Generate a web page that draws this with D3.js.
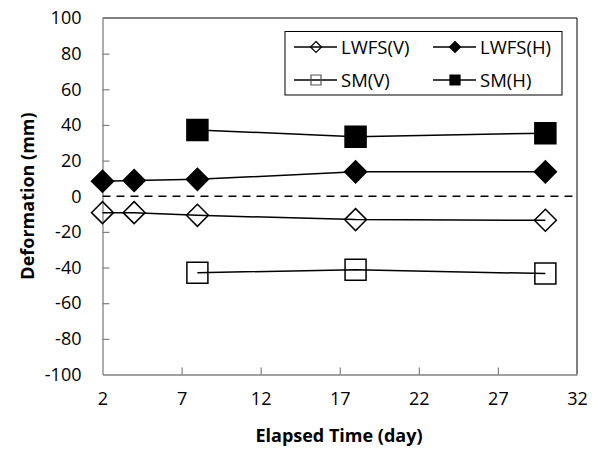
<!DOCTYPE html>
<html><head><meta charset="utf-8">
<script src="https://cdn.jsdelivr.net/npm/d3@7"></script>
<style>body{margin:0;background:#fff}svg{display:block}text{font-family:"Open Sans",sans-serif}</style>
</head><body>
<svg id="c" width="598" height="450"></svg>
<script>
const xTicks = [2, 7, 12, 17, 22, 27, 32];
const yTicks = [-100, -80, -60, -40, -20, 0, 20, 40, 60, 80, 100];
const lwfsDays = [2, 4, 8, 18, 30];
const smDays = [8, 18, 30];
const lwfsV = [-9.2, -9.2, -10.7, -13.1, -13.5];
const lwfsH = [8.4, 8.8, 9.5, 13.7, 13.7];
const smV = [-42.9, -41.2, -43.4];
const smH = [37.2, 33.4, 35.4];
const seriesNames = ["LWFS(V)", "LWFS(H)", "SM(V)", "SM(H)"];

const svg = d3.select("#c");
const L = 102.5, R = 577, T = 18, B = 374.5;
const x = d3.scaleLinear().domain([2, 32]).range([L, R]);
const y = d3.scaleLinear().domain([-100, 100]).range([B, T]);

// frame
svg.append("line").attr("x1", L).attr("x2", R).attr("y1", T).attr("y2", T).attr("stroke", "#000");
svg.append("line").attr("x1", R).attr("x2", R).attr("y1", T).attr("y2", B).attr("stroke", "#000");

// axes
const fmt = d => String(d);
const gx = svg.append("g").attr("transform", `translate(0,${B})`)
  .call(d3.axisBottom(x).tickValues(xTicks).tickFormat(fmt).tickSizeInner(-7).tickSizeOuter(0).tickPadding(18));
const gy = svg.append("g").attr("transform", `translate(${L},0)`)
  .call(d3.axisLeft(y).tickValues(yTicks).tickFormat(fmt).tickSizeInner(-7).tickSizeOuter(0).tickPadding(21));
[gx, gy].forEach(g => {
  g.select(".domain").attr("stroke", "#808080").attr("stroke-width", 1.3);
  g.selectAll(".tick line").attr("stroke", "#808080").attr("stroke-width", 1.2);
  g.selectAll(".tick text").attr("font-size", 18).attr("fill", "#000").attr("font-family", "Open Sans");
});
gy.selectAll(".tick").filter(d => d === 0 || d === 100 || d === -100).select("line").remove();
gx.selectAll(".tick").filter(d => d === 2 || d === 32).select("line").remove();

// zero dashed line
svg.append("line").attr("x1", L).attr("x2", R).attr("y1", y(0)).attr("y2", y(0))
  .attr("stroke", "#000").attr("stroke-width", 1.5).attr("stroke-dasharray", "8,6");

const line = d3.line().x(d => x(d[0])).y(d => y(d[1]));
const diamond = s => `M0,${-s}L${s},0L0,${s}L${-s},0Z`;
const square = s => `M${-s},${-s}H${s}V${s}H${-s}Z`;

const series = [
  {days: lwfsDays, vals: lwfsV, shape: diamond, size: 11, fill: "none"},
  {days: lwfsDays, vals: lwfsH, shape: diamond, size: 11, fill: "#000"},
  {days: smDays, vals: smV, shape: square, size: 10.5, fill: "none"},
  {days: smDays, vals: smH, shape: square, size: 10.5, fill: "#000"}
];
series.forEach(s => {
  const pts = s.days.map((d, i) => [d, s.vals[i]]);
  svg.append("path").attr("d", line(pts)).attr("fill", "none").attr("stroke", "#000").attr("stroke-width", 1.5);
  svg.selectAll(null).data(pts).enter().append("path")
    .attr("d", s.shape(s.size)).attr("transform", d => `translate(${x(d[0])},${y(d[1])})`)
    .attr("fill", s.fill).attr("stroke", "#000").attr("stroke-width", 1.5);
});

// legend
const lg = svg.append("g");
lg.append("rect").attr("x", 285).attr("y", 31.5).attr("width", 277).attr("height", 63.5)
  .attr("fill", "#fff").attr("stroke", "#000").attr("stroke-width", 1);
const pos = [[294, 47], [433, 47], [294, 80], [433, 80]];
series.forEach((s, i) => {
  const [lx, ly] = pos[i];
  lg.append("line").attr("x1", lx).attr("x2", lx + 43).attr("y1", ly).attr("y2", ly).attr("stroke", "#000").attr("stroke-width", 1.5);
  lg.append("path").attr("d", s.shape(s.size === 11 ? 5.5 : 5)).attr("transform", `translate(${lx + 22},${ly})`)
    .attr("fill", s.fill).attr("stroke", i === 2 ? "#555" : "#000").attr("stroke-width", 1.2);
  lg.append("text").attr("x", lx + 47).attr("y", ly + 6.5).attr("font-size", 18.5).text(seriesNames[i]);
});

// titles
svg.append("text").attr("x", 339).attr("y", 442).attr("text-anchor", "middle")
  .attr("font-size", 18).attr("font-weight", "bold").text("Elapsed Time (day)");
svg.append("text").attr("transform", `translate(34,196) rotate(-90)`).attr("text-anchor", "middle")
  .attr("font-size", 18).attr("font-weight", "bold").text("Deformation (mm)");
</script>
</body></html>
